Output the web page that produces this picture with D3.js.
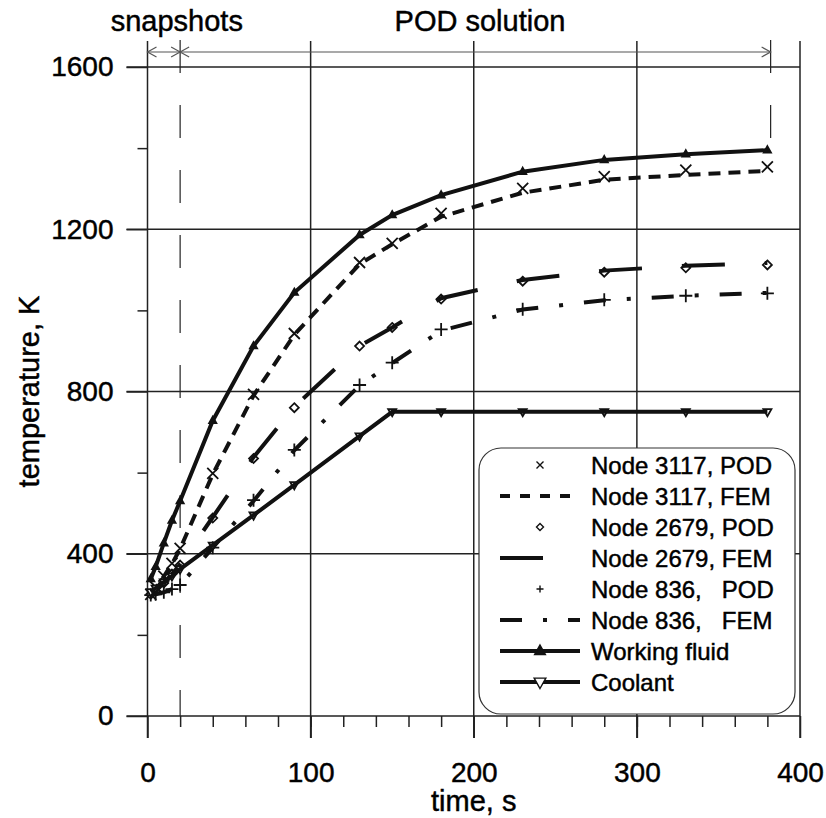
<!DOCTYPE html>
<html>
<head>
<meta charset="utf-8">
<script src="https://cdn.jsdelivr.net/npm/d3@7"></script>
<style>
    body { margin: 0; background: #fff; }
    svg { display: block; font-family: "Liberation Sans", Arial, sans-serif; }
    svg text { fill: #000; stroke: #000; stroke-width: 0.45; }
    .grid { stroke: #222; stroke-width: 1.5; }
    .tick text { font-size: 28px; }
    .legend-text { font-size: 24px; white-space: pre; }
</style>
</head>
<body>
<svg width="826" height="818"></svg>
<script>
const timeSteps = [2, 5, 10, 15, 20, 40, 65, 90, 130, 150, 180, 230, 280, 330, 380];
const node3117Pod = [300, 318, 345, 376, 413, 598, 793, 943, 1118, 1165, 1239, 1301, 1330, 1346, 1354];
const node3117Fem = [300, 317, 344, 375, 412, 596, 790, 940, 1114, 1163, 1231, 1290, 1322, 1334, 1344];
const node2679Pod = [300, 308, 328, 350, 372, 488, 635, 760, 912, 958, 1028, 1072, 1094, 1105, 1112];
const node2679Fem = [300, 308, 328, 350, 374, 490, 638, 762, 912, 958, 1030, 1075, 1098, 1110, 1117];
const node836Pod = [298, 300, 305, 313, 323, 415, 532, 656, 816, 871, 953, 1003, 1026, 1036, 1042];
const node836Fem = [298, 300, 305, 313, 323, 415, 530, 655, 815, 870, 950, 1002, 1025, 1036, 1043];
const workingFluid = [338, 368, 426, 482, 530, 728, 912, 1044, 1186, 1235, 1284, 1342, 1371, 1385, 1395];
const coolant = [306, 315, 330, 345, 362, 421, 495, 570, 690, 750, 750, 750, 750, 750, 750];

const legendLabels = [
    "Node 3117, POD", "Node 3117, FEM", "Node 2679, POD", "Node 2679, FEM",
    "Node 836,   POD", "Node 836,   FEM", "Working fluid", "Coolant"
];
const xMajorTicks = [0, 100, 200, 300, 400];
const yMajorTicks = [0, 400, 800, 1200, 1600];
const snapshotEnd = 20;
const podEnd = 382;

const canvas = d3.select("svg");
const x = d3.scaleLinear().domain([0, 400]).range([147.5, 800]);
const y = d3.scaleLinear().domain([0, 1600]).range([716, 67]);
const plotTop = 41;
const plotBottom = 738;

class Marker {
    static times(r) { return `M${-r},${-r}L${r},${r}M${-r},${r}L${r},${-r}`; }
    static plus(r) { return `M${-r},0H${r}M0,${-r}V${r}`; }
    static diamond(r) { return `M0,${-r}L${r},0L0,${r}L${-r},0Z`; }
    static triUp(r) { return `M0,${-r}L${r * 0.9},${r * 0.6}L${-r * 0.9},${r * 0.6}Z`; }
    static triDown(r) { return `M0,${r}L${r * 0.9},${-r * 0.6}L${-r * 0.9},${-r * 0.6}Z`; }
}

// one entry per legend row
const series = [
    {values: node3117Pod, marker: Marker.times, size: 5.5, line: false},
    {values: node3117Fem, dash: "12,8", legendDash: "10,10", width: 4, line: true},
    {values: node2679Pod, marker: Marker.diamond, size: 4.5, fill: "#fff", line: false},
    {values: node2679Fem, dash: "43,40", width: 4, line: true},
    {values: node836Pod, marker: Marker.plus, size: 6.5, line: false},
    {values: node836Fem, dash: "22,21,4,21", width: 4, line: true},
    {values: workingFluid, marker: Marker.triUp, size: 4, legendSize: 6, fill: "#111", width: 4, line: true},
    {values: coolant, marker: Marker.triDown, size: 4.5, legendSize: 6.5, fill: "#fff", width: 4, line: true}
];

// grid lines
canvas.append("g").selectAll("line").data(xMajorTicks).join("line")
    .attr("class", "grid")
    .attr("x1", (d) => x(d)).attr("x2", (d) => x(d))
    .attr("y1", plotTop).attr("y2", plotBottom);
canvas.append("g").selectAll("line").data(yMajorTicks).join("line")
    .attr("class", "grid")
    .attr("x1", x(0) - 21).attr("x2", x(400))
    .attr("y1", (d) => y(d)).attr("y2", (d) => y(d));

// axes: labels from major axis, short minor ticks
const xAxis = canvas.append("g").attr("transform", `translate(0,${y(0)})`)
    .call(d3.axisBottom(x).tickValues(xMajorTicks).tickSize(22).tickPadding(24).tickFormat(d3.format("d")));
const xMinor = canvas.append("g").attr("transform", `translate(0,${y(0)})`)
    .call(d3.axisBottom(x).tickValues(d3.range(20, 400, 20)).tickSize(11).tickFormat(""));
const yAxis = canvas.append("g").attr("transform", `translate(${x(0)},0)`)
    .call(d3.axisLeft(y).tickValues(yMajorTicks).tickSize(21).tickPadding(13).tickFormat(d3.format("d")));
const yMinor = canvas.append("g").attr("transform", `translate(${x(0)},0)`)
    .call(d3.axisLeft(y).tickValues([200, 600, 1000, 1400]).tickSize(10).tickFormat(""));
[xAxis, xMinor, yAxis, yMinor].forEach((g) => {
    g.select(".domain").remove();
    g.selectAll(".tick line").attr("stroke", "#222").attr("stroke-width", 1.5);
});

canvas.append("text")
    .attr("x", (x(0) + x(400)) / 2).attr("y", 811)
    .attr("text-anchor", "middle").attr("font-size", 29)
    .text("time, s");
canvas.append("text")
    .attr("transform", `translate(39,${(y(0) + y(1600)) / 2}) rotate(-90)`)
    .attr("text-anchor", "middle").attr("font-size", 29)
    .text("temperature, K");

// snapshots / POD annotation
[snapshotEnd, podEnd].forEach((t) => {
    canvas.append("line")
        .attr("x1", x(t)).attr("x2", x(t))
        .attr("y1", 40).attr("y2", t === snapshotEnd ? y(0) : y(workingFluid[workingFluid.length - 1]))
        .attr("stroke", "#222").attr("stroke-width", 1.2)
        .attr("stroke-dasharray", "33,32");
});

function arrow(x1, x2, yy) {
    const g = canvas.append("g").attr("stroke", "#555").attr("stroke-width", 1.2).attr("fill", "none");
    g.append("line").attr("x1", x1).attr("x2", x2).attr("y1", yy).attr("y2", yy);
    g.append("path").attr("d", `M${x1 + 9},${yy - 5}L${x1},${yy}L${x1 + 9},${yy + 5}`);
    g.append("path").attr("d", `M${x2 - 9},${yy - 5}L${x2},${yy}L${x2 - 9},${yy + 5}`);
}
arrow(x(0), x(snapshotEnd), 52);
arrow(x(snapshotEnd), x(podEnd), 52);

canvas.append("text")
    .attr("x", (x(0) + x(snapshotEnd)) / 2 + 13).attr("y", 31)
    .attr("text-anchor", "middle").attr("font-size", 29)
    .text("snapshots");
canvas.append("text")
    .attr("x", 480).attr("y", 31)
    .attr("text-anchor", "middle").attr("font-size", 29)
    .text("POD solution");

// data
const line = d3.line()
    .x((d, i) => x(timeSteps[i]))
    .y((d) => y(d));

series.forEach((s) => {
    if (s.marker) {
        canvas.append("g").selectAll("path").data(s.values).join("path")
            .attr("transform", (d, i) => `translate(${x(timeSteps[i])},${y(d)})`)
            .attr("d", s.marker(s.size))
            .attr("fill", s.fill || "none")
            .attr("stroke", "#111").attr("stroke-width", 1.8);
    }
    if (s.line) {
        canvas.append("path")
            .attr("d", line(s.values))
            .attr("fill", "none").attr("stroke", "#111")
            .attr("stroke-width", s.width)
            .attr("stroke-dasharray", s.dash || null);
    }
});

// legend
const legend = canvas.append("g");
legend.append("rect")
    .attr("x", 479).attr("y", 448).attr("width", 316).attr("height", 266)
    .attr("rx", 22).attr("ry", 22)
    .attr("fill", "#fff").attr("stroke", "#333").attr("stroke-width", 1.2);

legendLabels.forEach((label, i) => {
    const s = series[i];
    const cy = 465 + i * 31;
    const row = legend.append("g");
    if (s.line) {
        row.append("line")
            .attr("x1", 500).attr("x2", 580).attr("y1", cy).attr("y2", cy)
            .attr("stroke", "#111").attr("stroke-width", s.width)
            .attr("stroke-dasharray", s.legendDash || s.dash || null);
    }
    if (s.marker) {
        row.append("path")
            .attr("transform", `translate(540,${cy})`)
            .attr("d", s.marker(s.legendSize || 3.5))
            .attr("fill", s.fill || "none")
            .attr("stroke", "#111").attr("stroke-width", 1.4);
    }
    row.append("text")
        .attr("class", "legend-text")
        .attr("x", 591).attr("y", cy + 8.5)
        .text(label);
});
</script>
</body>
</html>
